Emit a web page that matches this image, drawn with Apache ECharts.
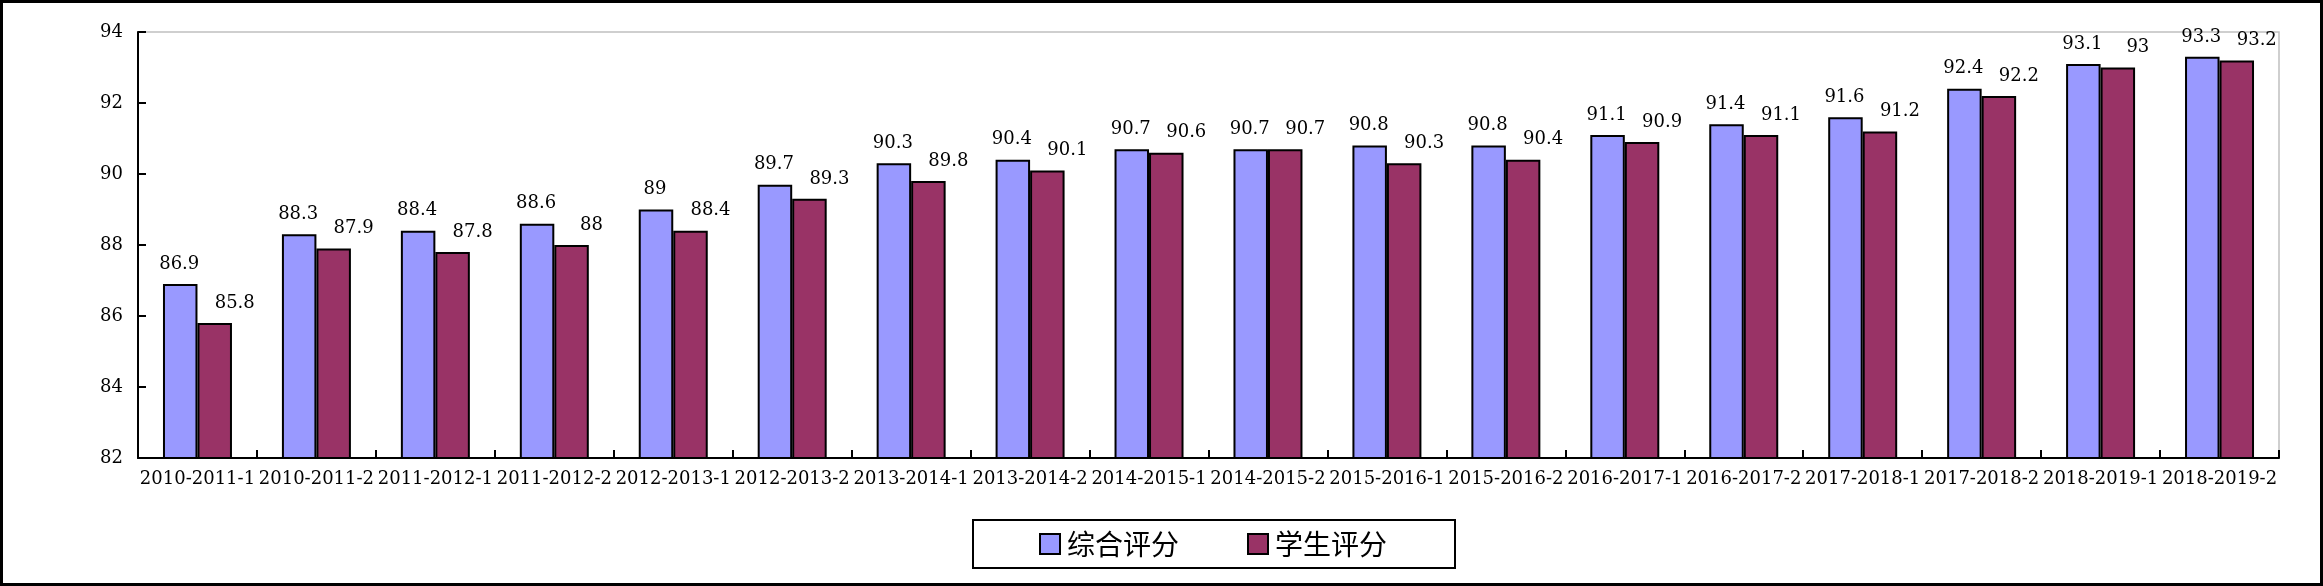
<!DOCTYPE html>
<html>
<head>
<meta charset="utf-8">
<script src="https://cdn.jsdelivr.net/npm/echarts@6/dist/echarts.min.js"></script>
<style>
html,body{margin:0;padding:0;background:#fff;}
#frame{position:absolute;left:0;top:0;width:2323px;height:586px;box-sizing:border-box;border:3px solid #000;}
#chart{position:absolute;left:0;top:0;width:2323px;height:586px;}
</style>
</head>
<body>
<div id="chart"></div>
<div id="frame"></div>
<script>
const categories = ['2010-2011-1','2010-2011-2','2011-2012-1','2011-2012-2','2012-2013-1','2012-2013-2','2013-2014-1','2013-2014-2','2014-2015-1','2014-2015-2','2015-2016-1','2015-2016-2','2016-2017-1','2016-2017-2','2017-2018-1','2017-2018-2','2018-2019-1','2018-2019-2'];
const seriesNames = ['综合评分','学生评分'];
const overallScores = [86.9,88.3,88.4,88.6,89,89.7,90.3,90.4,90.7,90.7,90.8,90.8,91.1,91.4,91.6,92.4,93.1,93.3];
const studentScores = [85.8,87.9,87.8,88,88.4,89.3,89.8,90.1,90.6,90.7,90.3,90.4,90.9,91.1,91.2,92.2,93,93.2];
const yTicks = {min:82, max:94, interval:2};

const chart = echarts.init(document.getElementById('chart'), null, {renderer:'canvas'});
const serifFont = 'DejaVu Serif';
const labelCommon = {
  show:true, position:'top', distance:11,
  fontFamily:serifFont, fontSize:18, color:'#000'
};
chart.setOption({
  animation:false,
  backgroundColor:'#fff',
  grid:{left:138, top:32, right:44, bottom:128, show:true, borderColor:'#c0c0c0', borderWidth:1.5, backgroundColor:'transparent'},
  legend:{
    left:973, top:520,
    padding:[9,68,9,66],
    borderColor:'#000', borderWidth:2,
    itemWidth:20, itemHeight:20, itemGap:68,
    icon:'rect',
    textStyle:{fontFamily:'Noto Sans CJK SC', fontSize:28, color:'#000', lineHeight:30, padding:[0,0,0,2]},
    data:seriesNames
  },
  xAxis:{
    type:'category', data:categories,
    axisLine:{show:true, lineStyle:{color:'#000', width:2}},
    axisTick:{show:true, inside:true, length:8, lineStyle:{color:'#000', width:2}},
    axisLabel:{interval:0, margin:12, fontFamily:serifFont, fontSize:18, color:'#000'},
    splitLine:{show:false}
  },
  yAxis:{
    type:'value', min:yTicks.min, max:yTicks.max, interval:yTicks.interval,
    axisLine:{show:true, lineStyle:{color:'#000', width:2}},
    axisTick:{show:true, inside:true, length:8, lineStyle:{color:'#000', width:2}},
    axisLabel:{margin:15, fontFamily:serifFont, fontSize:18, color:'#000'},
    splitLine:{show:false}
  },
  series:[
    {name:seriesNames[0], type:'bar', data:overallScores, barGap:'0%', barCategoryGap:'42%',
     itemStyle:{color:'#9999FF', borderColor:'#000', borderWidth:2},
     label:Object.assign({}, labelCommon, {offset:[-1,0]})},
    {name:seriesNames[1], type:'bar', data:studentScores, barGap:'0%', barCategoryGap:'42%',
     itemStyle:{color:'#993366', borderColor:'#000', borderWidth:2},
     label:Object.assign({}, labelCommon, {offset:[20,0]})}
  ]
});
</script>
</body>
</html>
